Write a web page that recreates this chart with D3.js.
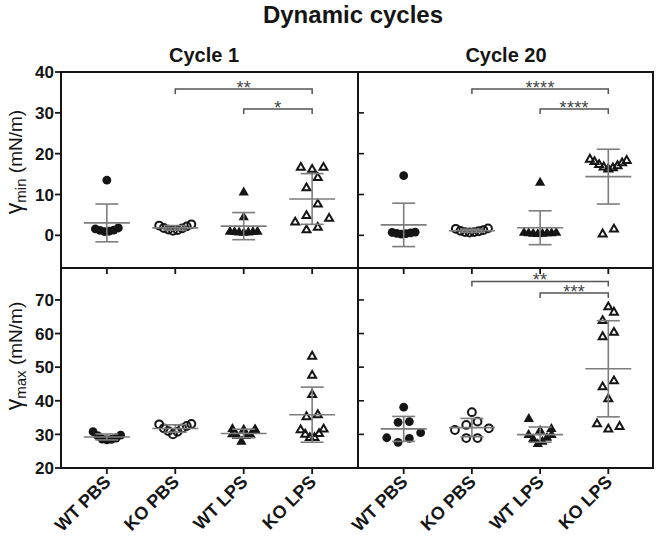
<!DOCTYPE html>
<html><head><meta charset="utf-8">
<script src="https://cdn.jsdelivr.net/npm/d3@7"></script>
<style>
body{margin:0;background:#fff}
svg{display:block}
text{font-family:"Liberation Sans",Arial,sans-serif}
</style>
</head><body>
<svg id="chart" width="656" height="538"></svg>
<script>
// ---------- data ----------
const categories = ["WT PBS", "KO PBS", "WT LPS", "KO LPS"];
const cycleNames = ["Cycle 1", "Cycle 20"];
const minTicks = [0, 10, 20, 30, 40];
const maxTicks = [20, 30, 40, 50, 60, 70];

// γmin, Cycle 1
const minC1WtPbs = [1.8, 1.2, 0.9, 1.3, 1.0, 1.6, 13.5];
const minC1KoPbs = [2.7, 2.2, 1.8, 1.4, 1.1, 1.3, 1.7, 2.4];
const minC1WtLps = [10.5, 4.4, 0.8, 0.7, 0.9, 0.8, 0.6, 0.9, 0.7];
const minC1KoLps = [16.6, 16.1, 16.6, 14.1, 11.6, 7.6, 4.8, 3.2, 4.1, 1.3, 1.9];
// γmin, Cycle 20
const minC20WtPbs = [14.6, 0.5, 0.8, 0.3, 0.6, 0.4, 0.7];
const minC20KoPbs = [1.7, 1.3, 1.0, 0.8, 0.7, 0.8, 1.1, 1.6];
const minC20WtLps = [12.9, 0.5, 0.4, 0.6, 0.3, 0.5, 0.6, 0.4, 0.5];
const minC20KoLps = [18.6, 18.0, 17.3, 16.7, 16.2, 16.5, 17.0, 17.7, 18.3, 0.3, 1.5];
// γmax, Cycle 1
const maxC1WtPbs = [30.8, 29.8, 28.6, 28.4, 28.5, 28.9, 29.6];
const maxC1KoPbs = [33.1, 32.5, 31.8, 31.0, 30.0, 30.8, 31.8, 33.0];
const maxC1WtLps = [31.5, 31.3, 31.6, 31.4, 29.8, 29.6, 30.0, 29.5, 27.8];
const maxC1KoLps = [53.2, 47.5, 41.8, 35.8, 35.2, 31.3, 31.5, 30.0, 30.2, 29.0, 29.0];
// γmax, Cycle 20
const maxC20WtPbs = [38.1, 33.8, 33.6, 29.0, 30.5, 27.6, 28.8];
const maxC20KoPbs = [36.6, 33.8, 32.8, 31.3, 31.8, 28.9, 28.9];
const maxC20WtLps = [34.6, 31.6, 31.1, 29.8, 29.8, 28.6, 29.0, 27.1, 27.8];
const maxC20KoLps = [67.9, 66.3, 63.8, 60.3, 59.0, 45.9, 44.1, 40.5, 33.1, 31.5, 32.3];

// significance brackets
const sigMeasure = ["min", "min", "min", "min", "max", "max"];
const sigCycle   = [0, 0, 1, 1, 1, 1];
const sigFrom    = ["KO PBS", "WT LPS", "KO PBS", "WT LPS", "KO PBS", "WT LPS"];
const sigTo      = ["KO LPS", "KO LPS", "KO LPS", "KO LPS", "KO LPS", "KO LPS"];
const sigLabel   = ["**", "*", "****", "****", "**", "***"];
const sigLevel   = [0, 1, 0, 1, 0, 1];

// ---------- layout ----------
const svg = d3.select("#chart");
const F = {x0: 61, xm: 358, x1: 654, y0: 72, ym: 268, y1: 468};
const xScales = [
  d3.scalePoint().domain(categories).range([F.x0, F.xm]).padding(0.67),
  d3.scalePoint().domain(categories).range([F.xm, F.x1]).padding(0.67)
];
const yScales = {
  min: d3.scaleLinear().domain([-8, 40]).range([F.ym, F.y0]),
  max: d3.scaleLinear().domain([20, 79.5]).range([F.y1, F.ym])
};

const table = [
  ["min", 0, minC1WtPbs, minC1KoPbs, minC1WtLps, minC1KoLps],
  ["min", 1, minC20WtPbs, minC20KoPbs, minC20WtLps, minC20KoLps],
  ["max", 0, maxC1WtPbs, maxC1KoPbs, maxC1WtLps, maxC1KoLps],
  ["max", 1, maxC20WtPbs, maxC20KoPbs, maxC20WtLps, maxC20KoLps]
];
const groups = [];
table.forEach(r => categories.forEach((c, i) => groups.push({measure: r[0], cycle: r[1], cat: c, ci: i, values: r[2 + i]})));

function swarm(vals, y) {
  const pts = vals.map(v => ({v, py: y(v)})).sort((a, b) => a.v - b.v);
  const bins = []; let cur = null;
  for (const p of pts) {
    if (cur && cur[0].py - p.py < 12) cur.push(p); else { cur = [p]; bins.push(cur); }
  }
  for (const b of bins) {
    const k = b.length, s = k <= 4 ? 11.3 : 4.6;
    const slots = d3.range(k).map(i => (i - (k - 1) / 2) * s);
    const order = [];
    if (k % 2 === 1) { const c = (k - 1) / 2; order.push(c); for (let j = 1; j <= c; j++) order.push(c + j, c - j); }
    else { const c = k / 2; for (let j = 0; j < c; j++) order.push(c - 1 - j, c + j); }
    b.forEach((p, i) => p.dx = slots[order[i]]);
  }
  return pts;
}

const ink = "#151515", grey = "#7d7d7d";
const gPts = svg.append("g");
const gBars = svg.append("g");
const triBig = d3.symbol(d3.symbolTriangle, 46)();
const triOpen = d3.symbol(d3.symbolTriangle, 27)();

groups.forEach(g => {
  const x = xScales[g.cycle](g.cat), y = yScales[g.measure];
  const pts = swarm(g.values, y);
  pts.forEach(p => {
    const cx = x + p.dx, cy = p.py;
    if (g.ci === 0) gPts.append("circle").attr("cx", cx).attr("cy", cy).attr("r", 4.4).attr("fill", ink);
    else if (g.ci === 1) gPts.append("circle").attr("cx", cx).attr("cy", cy).attr("r", 3.9).attr("fill", "none").attr("stroke", ink).attr("stroke-width", 2);
    else if (g.ci === 2) gPts.append("path").attr("d", triBig).attr("transform", `translate(${cx},${cy})`).attr("fill", ink);
    else gPts.append("path").attr("d", triOpen).attr("transform", `translate(${cx},${cy})`).attr("fill", "none").attr("stroke", ink).attr("stroke-width", 2).attr("stroke-linejoin", "miter");
  });
  const m = d3.mean(g.values), sd = d3.deviation(g.values);
  const yt = y(m + sd), yb = y(m - sd), ym = y(m);
  const bar = (x1, y1, x2, y2) => gBars.append("line").attr("x1", x1).attr("y1", y1).attr("x2", x2).attr("y2", y2).attr("stroke", grey).attr("stroke-width", 1.6);
  bar(x, yt, x, yb);
  bar(x - 23, ym, x + 23, ym);
  bar(x - 11.5, yt, x + 11.5, yt);
  bar(x - 11.5, yb, x + 11.5, yb);
});

// ---------- frame & axes ----------
const gAx = svg.append("g").attr("stroke", ink).attr("stroke-width", 2).attr("fill", "none");
const ln = (x1, y1, x2, y2, w) => gAx.append("line").attr("x1", x1).attr("y1", y1).attr("x2", x2).attr("y2", y2).attr("stroke-width", w || 2);
ln(F.x0, F.y0 - 1, F.x0, F.y1 + 1);
ln(F.x0, F.y0, F.x1, F.y0);
ln(F.x0, F.ym, F.x1, F.ym);
ln(F.x0, F.y1, F.x1, F.y1);
ln(F.xm, F.y0, F.xm, F.y1);
ln(F.x1 - 1, F.y0, F.x1 - 1, F.y1);

minTicks.forEach(t => {
  const yy = yScales.min(t);
  ln(F.x0 - 6, yy, F.x0, yy, 1.8);
  if (t < 40) ln(F.xm, yy, F.xm + 6, yy, 1.6);
  svg.append("text").attr("x", F.x0 - 7).attr("y", yy).attr("dy", "0.36em").attr("text-anchor", "end")
    .attr("font-size", 17).attr("font-weight", "bold").attr("fill", ink).text(t);
});
maxTicks.forEach(t => {
  const yy = yScales.max(t);
  ln(F.x0 - 6, yy, F.x0, yy, 1.8);
  if (t > 20) ln(F.xm, yy, F.xm + 6, yy, 1.6);
  svg.append("text").attr("x", F.x0 - 7).attr("y", yy).attr("dy", "0.36em").attr("text-anchor", "end")
    .attr("font-size", 17).attr("font-weight", "bold").attr("fill", ink).text(t);
});
xScales.forEach(xs => categories.forEach(c => {
  const xx = xs(c);
  ln(xx, F.ym, xx, F.ym + 6, 1.8);
  ln(xx, F.y1, xx, F.y1 + 6, 1.8);
  svg.append("text").attr("transform", `translate(${xx + 5},${F.y1 + 15}) rotate(-45)`)
    .attr("text-anchor", "end").attr("font-size", 18).attr("font-weight", "bold").attr("fill", ink).text(c);
}));

// ---------- significance ----------
sigLabel.forEach((lab, i) => {
  const xs = xScales[sigCycle[i]];
  const xa = xs(sigFrom[i]), xb = xs(sigTo[i]);
  const yy = sigMeasure[i] === "min" ? 89 + sigLevel[i] * 20 : 281.5 + sigLevel[i] * 11.5;
  svg.append("path").attr("d", `M${xa},${yy + 5}V${yy}H${xb}V${yy + 5}`).attr("fill", "none").attr("stroke", "#555").attr("stroke-width", 1.5);
  svg.append("text").attr("x", (xa + xb) / 2).attr("y", yy + 4.5).attr("text-anchor", "middle")
    .attr("font-size", 18).attr("letter-spacing", "0.3px").attr("fill", "#444").text(lab);
});

// ---------- titles ----------
svg.append("text").attr("x", 353).attr("y", 23).attr("text-anchor", "middle").attr("font-size", 24).attr("font-weight", "bold").attr("fill", ink).text("Dynamic cycles");
cycleNames.forEach((c, i) => {
  const cx = i === 0 ? 204 : 506;
  svg.append("text").attr("x", cx).attr("y", 62).attr("text-anchor", "middle").attr("font-size", 20).attr("font-weight", "bold").attr("fill", ink).text(c);
});
function yTitle(sub, cy) {
  const t = svg.append("text").attr("transform", `translate(22,${cy}) rotate(-90)`).attr("text-anchor", "middle").attr("fill", ink).attr("font-size", 19);
  t.append("tspan").attr("font-size", 23).text("γ");
  t.append("tspan").attr("font-size", 15).attr("dy", 4).text(sub);
  t.append("tspan").attr("dy", -4).text(" (mN/m)");
}
yTitle("min", 162);
yTitle("max", 356);
</script>
</body></html>
